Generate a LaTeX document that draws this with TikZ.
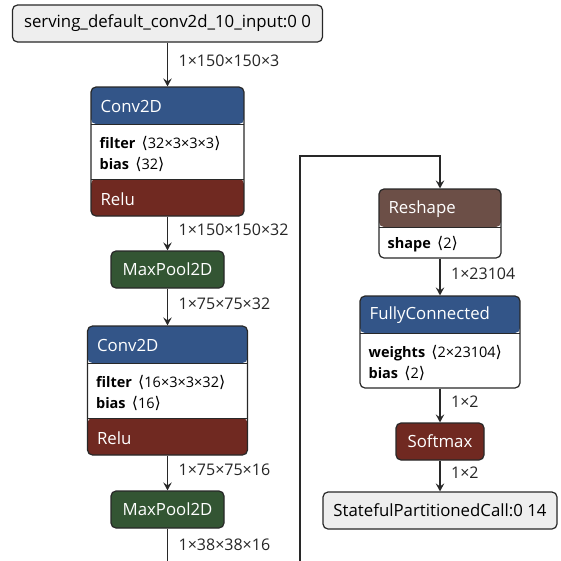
\documentclass[tikz,border=0pt]{standalone}
\usepackage{fontspec}
\setmainfont{Open Sans}
\newfontfamily\symf{DejaVu Sans}
\usetikzlibrary{arrows.meta}

\definecolor{convblue}{RGB}{51,85,136}
\definecolor{relured}{RGB}{112,41,33}
\definecolor{poolgreen}{RGB}{51,85,51}
\definecolor{shapebrown}{RGB}{108,79,71}
\definecolor{iofill}{RGB}{238,238,238}
\definecolor{edgegray}{RGB}{40,40,40}

\newcommand{\shp}[1]{\,{\symf\fontsize{16}{21}\selectfont ⟨}#1{\symf\fontsize{16}{21}\selectfont ⟩}}
\newcommand{\headfill}[2]{%
  \fill[#1] (path picture bounding box.north west) rectangle ([yshift=-#2pt]path picture bounding box.north east);
  \draw[edgegray, line width=1pt] ([yshift=-#2pt]path picture bounding box.north west) -- ([yshift=-#2pt]path picture bounding box.north east);}
\newcommand{\footfill}[2]{%
  \fill[#1] (path picture bounding box.south west) rectangle ([yshift=#2pt]path picture bounding box.south east);
  \draw[edgegray, line width=1pt] ([yshift=#2pt]path picture bounding box.south west) -- ([yshift=#2pt]path picture bounding box.south east);}

\tikzset{
  layer/.style={draw=edgegray, line width=1.2pt, rounded corners=5pt, fill=white, inner sep=0pt},
  iobox/.style={layer, fill=iofill, minimum height=37pt, font=\fontsize{16.8}{19}\selectfont},
  opbox/.style={layer, minimum height=37pt, text=white, font=\fontsize{16.8}{19}\selectfont},
  convbox/.style={layer, minimum width=#1, minimum height=129pt,
    path picture={\headfill{convblue}{37}\footfill{relured}{37}}},
  reshapebox/.style={layer, minimum width=122pt, minimum height=69pt,
    path picture={\headfill{shapebrown}{38}}},
  fcbox/.style={layer, minimum width=160pt, minimum height=92pt,
    path picture={\headfill{convblue}{37}}},
  title/.style={anchor=west, inner sep=0pt, yshift=-1.5pt, text=white, font=\fontsize{16.8}{19}\selectfont},
  attr/.style={anchor=west, inner sep=0pt, align=left, font=\fontsize{14.5}{21}\selectfont},
  edge/.style={edgegray, line width=1.3pt, -{Stealth[length=8pt,width=8.5pt,inset=3pt]}},
  elabel/.style={right, inner sep=0pt, xshift=10.5pt, yshift=3.5pt, text=black!85,
    font=\fontsize{16}{18}\selectfont}
}

\begin{document}
\begin{tikzpicture}[x=1pt, y=-1pt]
  \useasboundingbox[fill=white] (0,0) rectangle (561,560);

  % left column
  \node[iobox, minimum width=310pt] (input) at (167.5,23.5) {serving\_default\_conv2d\_10\_input:0 0};

  \node[convbox=153pt] (conv1) at (167.5,151.5) {};
  \node[title] (conv1name) at ([xshift=10pt,yshift=-18.5pt]conv1.north west) {Conv2D};
  \node[attr] (conv1attr) at ([xshift=9pt,yshift=-2pt]conv1.west)
    {\textbf{filter} \shp{32×3×3×3}\\\textbf{bias} \shp{32}};
  \node[title] (conv1act) at ([xshift=10pt,yshift=18.5pt]conv1.south west) {Relu};

  \node[opbox, fill=poolgreen, minimum width=113pt] (pool1) at (167.5,269.5) {MaxPool2D};

  \node[convbox=160pt] (conv2) at (167.5,390.5) {};
  \node[title] (conv2name) at ([xshift=10pt,yshift=-18.5pt]conv2.north west) {Conv2D};
  \node[attr] (conv2attr) at ([xshift=9pt,yshift=-2pt]conv2.west)
    {\textbf{filter} \shp{16×3×3×32}\\\textbf{bias} \shp{16}};
  \node[title] (conv2act) at ([xshift=10pt,yshift=18.5pt]conv2.south west) {Relu};

  \node[opbox, fill=poolgreen, minimum width=113pt] (pool2) at (167.5,509.5) {MaxPool2D};

  % right column
  \node[reshapebox] (reshape) at (440,223.5) {};
  \node[title] (reshapename) at ([xshift=10pt,yshift=-19pt]reshape.north west) {Reshape};
  \node[attr] (reshapeattr) at ([xshift=9pt,yshift=14.5pt]reshape.south west) {\textbf{shape} \shp{2}};

  \node[fcbox] (fc) at (440,342) {};
  \node[title] (fcname) at ([xshift=10pt,yshift=-18.5pt]fc.north west) {FullyConnected};
  \node[attr] (fcattr) at ([xshift=9pt,yshift=26pt]fc.south west)
    {\textbf{weights} \shp{2×23104}\\\textbf{bias} \shp{2}};

  \node[opbox, fill=relured, minimum width=88pt] (softmax) at (440,441.5) {Softmax};
  \node[iobox, minimum width=234pt] (output) at (440,510.5) {StatefulPartitionedCall:0 14};

  % bends of the long edge
  \coordinate (bend1) at (167.5,600);
  \coordinate (bend2) at (300,600);
  \coordinate (bend3) at (300,156);
  \coordinate (bend4) at (440,156);

  % edges
  \draw[edge] (input) -- node[elabel] {1×150×150×3} (conv1);
  \draw[edge] (conv1) -- node[elabel] {1×150×150×32} (pool1);
  \draw[edge] (pool1) -- node[elabel] {1×75×75×32} (conv2);
  \draw[edge] (conv2) -- node[elabel] {1×75×75×16} (pool2);
  \draw[edge] (pool2) -- node[elabel, pos=0.27] {1×38×38×16} (bend1) -- (bend2) -- (bend3) -- (bend4) -- (reshape);
  \draw[edge] (reshape) -- node[elabel] {1×23104} (fc);
  \draw[edge] (fc) -- node[elabel] {1×2} (softmax);
  \draw[edge] (softmax) -- node[elabel] {1×2} (output);
\end{tikzpicture}
\end{document}
